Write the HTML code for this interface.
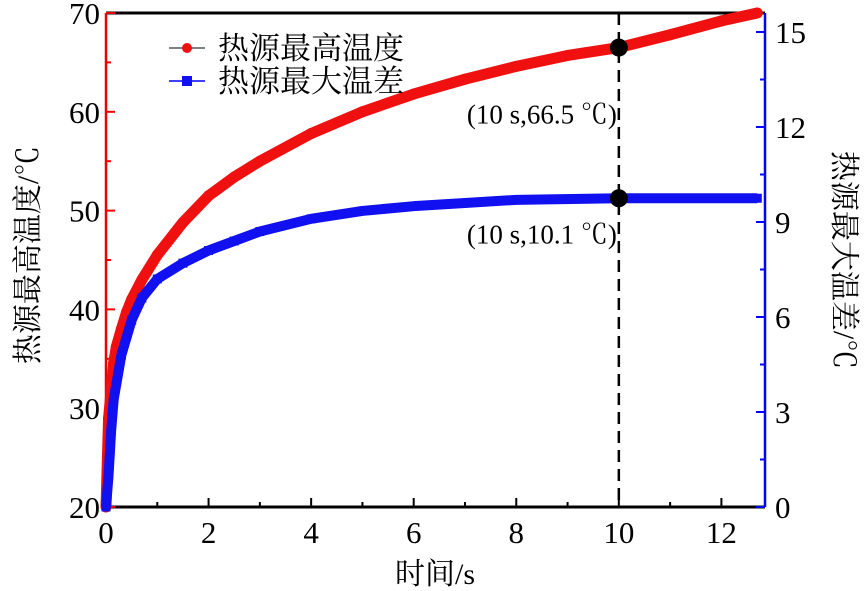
<!DOCTYPE html>
<html><head><meta charset="utf-8"><style>
body{margin:0;background:#fff}
svg{display:block;font-family:"Liberation Serif","Noto Serif CJK SC",serif}
</style></head><body>
<svg id="chart" width="864" height="591" viewBox="0 0 864 591" xmlns="http://www.w3.org/2000/svg"></svg>
<script>
const timeRed=[0,0.05,0.15,0.2,0.3,0.4,0.5,0.7,1,1.5,2,2.5,3,4,5,6,7,8,9,10,11,12,12.7];
const maxTemp=[20,29,34.6,36.2,38,39.7,41,43,45.5,48.8,51.5,53.4,55,57.8,60,61.8,63.3,64.6,65.7,66.5,67.8,69.2,70];
const timeBlue=[0,0.05,0.1,0.15,0.3,0.5,0.7,1,1.5,2,2.5,3,4,5,6,7,8,10,12.7];
const maxDiff=[0,1,2.4,3.4,4.8,5.9,6.6,7.2,7.7,8.1,8.4,8.7,9.1,9.35,9.5,9.6,9.7,9.75,9.75];
const xTicks=[0,2,4,6,8,10,12];
const yLeftTicks=[20,30,40,50,60,70];
const yRightTicks=[0,3,6,9,12,15];
const annTime=[10,10];
const annLeft=[66.5];
const annRight=[9.75];
const annLabels=["(10 s,66.5 ℃)","(10 s,10.1 ℃)"];

const L=106,R=765,T=13,B=507;
const X=t=>L+(t-0)/(12.85-0)*(R-L);
const YL=v=>B-(v-20)/(70-20)*(B-T);
const YR=v=>B-(v-0)/(15.6-0)*(B-T);
const svg=document.getElementById('chart');
const NS='http://www.w3.org/2000/svg';
function mk(tag,attrs,parent){const e=document.createElementNS(NS,tag);for(const k in attrs)e.setAttribute(k,attrs[k]);(parent||svg).appendChild(e);return e;}

let e=mk('line',{x1:L,y1:T,x2:R,y2:T,stroke:'#000','stroke-width':3});

e=mk('line',{x1:L,y1:B,x2:R,y2:B,stroke:'#000','stroke-width':3});

e=mk('line',{x1:L,y1:T,x2:L,y2:B,stroke:'#e00','stroke-width':2.5});

e=mk('line',{x1:R,y1:T,x2:R,y2:B,stroke:'#00f','stroke-width':2.5});


xTicks.forEach((t,i)=>{
  mk('line',{x1:X(t),y1:B,x2:X(t),y2:B-9,stroke:'#000','stroke-width':2});
  if(i<xTicks.length-1)mk('line',{x1:X(t+1),y1:B,x2:X(t+1),y2:B-5,stroke:'#000','stroke-width':2});
  const tx=mk('text',{x:X(t),y:B+36,'font-size':31,'text-anchor':'middle'});
  tx.textContent=t;
  
  
});
yLeftTicks.forEach((v,i)=>{
  mk('line',{x1:L,y1:YL(v),x2:L+9,y2:YL(v),stroke:'#e00','stroke-width':2});
  if(i<yLeftTicks.length-1)mk('line',{x1:L,y1:YL(v+5),x2:L+5,y2:YL(v+5),stroke:'#e00','stroke-width':2});
  const tx=mk('text',{x:L-6,y:YL(v)+11,'font-size':31,'text-anchor':'end'});
  tx.textContent=v;
  
  
});
yRightTicks.forEach((v,i)=>{
  mk('line',{x1:R,y1:YR(v),x2:R-9,y2:YR(v),stroke:'#00f','stroke-width':2});
  mk('line',{x1:R,y1:YR(v+1.5),x2:R-5,y2:YR(v+1.5),stroke:'#00f','stroke-width':2});
  const tx=mk('text',{x:R+10,y:YR(v)+11,'font-size':31,'text-anchor':'start'});
  tx.textContent=v;
  
  
});

const redPts=timeRed.map((t,i)=>X(t)+','+YL(maxTemp[i])).join(' ');
e=mk('polyline',{points:redPts,fill:'none',stroke:'#f01010','stroke-width':11,'stroke-linejoin':'round'});

timeRed.forEach((t,i)=>{
  const c=mk('circle',{cx:X(t),cy:YL(maxTemp[i]),r:5.5,fill:'#f01010'});
  
  
});
const bluePts=timeBlue.map((t,i)=>X(t)+','+YR(maxDiff[i])).join(' ');
e=mk('polyline',{points:bluePts,fill:'none',stroke:'#1010f0','stroke-width':10,'stroke-linejoin':'round'});

timeBlue.forEach((t,i)=>{
  const c=mk('rect',{x:X(t)-4.5,y:YR(maxDiff[i])-4.5,width:9,height:9,fill:'#1010f0'});
  
  
});

e=mk('line',{x1:X(annTime[0]),y1:T,x2:X(annTime[0]),y2:B,stroke:'#000','stroke-width':2.5,'stroke-dasharray':'12,7'});

e=mk('circle',{cx:X(annTime[0]),cy:YL(annLeft[0]),r:9,fill:'#000'});

e=mk('circle',{cx:X(annTime[1]),cy:YR(annRight[0]),r:9,fill:'#000'});

e=mk('text',{x:X(annTime[0])-2,y:YL(annLeft[0])+76,'font-size':27,'text-anchor':'end'});
e.textContent=annLabels[0];

e=mk('text',{x:X(annTime[1])-2,y:YR(annRight[0])+45,'font-size':27,'text-anchor':'end'});
e.textContent=annLabels[1];


e=mk('line',{x1:169,y1:48,x2:205,y2:48,stroke:'#555','stroke-width':1.5});

e=mk('circle',{cx:187,cy:48,r:5,fill:'#f01010'});

e=mk('text',{x:218,y:59,'font-size':31});
e.textContent='热源最高温度';

e=mk('line',{x1:169,y1:81,x2:205,y2:81,stroke:'#00f','stroke-width':1.5});

e=mk('rect',{x:182,y:76,width:10,height:10,fill:'#1010f0'});

e=mk('text',{x:218,y:92,'font-size':31});
e.textContent='热源最大温差';


e=mk('text',{x:435,y:584,'font-size':30,'text-anchor':'middle'});
e.textContent='时间/s';

e=mk('text',{x:0,y:0,'font-size':30,'text-anchor':'middle',transform:'translate(38,255) rotate(-90)'});
e.textContent='热源最高温度/℃';

e=mk('text',{x:0,y:0,'font-size':30,'text-anchor':'middle',transform:'translate(834,260) rotate(90)'});
e.textContent='热源最大温差/℃';

</script>
</body></html>
